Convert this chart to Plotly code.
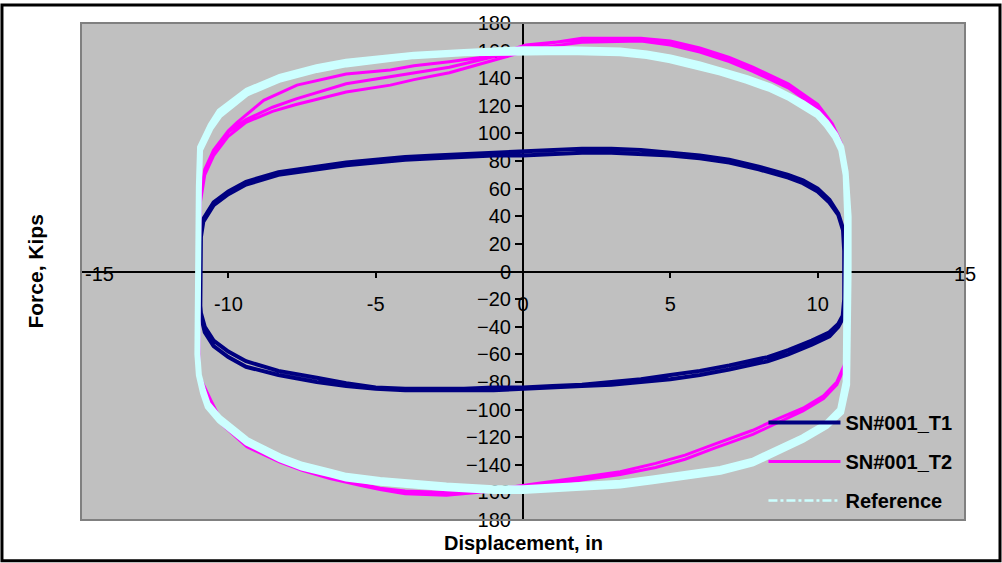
import plotly.graph_objects as go

# ---------------- data ----------------
x_ticks = [-15, -10, -5, 0, 5, 10, 15]
x_tick_text = ["", "-10", "-5", "0", "5", "10", ""]
y_ticks = list(range(-180, 181, 20))

# SN#001_T1 (two cycles)
t1_x = [-10.95, -10.95, -10.93, -10.85, -10.5, -10.0, -9.4, -8.3, -7.0, -6.0, -5.0, -4.0, -3.0, -2.0, -1.0, 0.0,
        1.0, 2.0, 3.0, 4.0, 5.0, 6.0, 7.0, 8.0, 9.0, 9.5, 10.0, 10.4, 10.7, 10.86, 10.9, 10.9, 10.9, 10.85,
        10.7, 10.4, 9.8, 9.0, 8.3, 7.0, 6.0, 5.0, 4.0, 3.0, 2.0, 1.0, 0.0, -1.0, -2.0, -3.0, -4.0, -5.0, -6.0,
        -7.0, -8.3, -9.4, -10.0, -10.5, -10.8, -10.93, -10.95,
        -10.95, -10.93, -10.85, -10.5, -10.0, -9.4, -8.3, -7.0, -6.0, -5.0, -4.0, -3.0, -2.0, -1.0, 0.0,
        1.0, 2.0, 3.0, 4.0, 5.0, 6.0, 7.0, 8.0, 9.0, 9.5, 10.0, 10.4, 10.7, 10.86, 10.9, 10.9, 10.9, 10.85,
        10.7, 10.4, 9.8, 9.0, 8.3, 7.0, 6.0, 5.0, 4.0, 3.0, 2.0, 1.0, 0.0, -1.0, -2.0, -3.0, -4.0, -5.0, -6.0,
        -7.0, -8.3, -9.4, -10.0, -10.5, -10.8, -10.93, -10.95]
t1_f = [-25, 0, 25, 36, 48, 56, 63, 70, 74, 77, 79, 81, 82, 83, 84, 84,
        85, 86, 86, 85, 84, 82, 79, 74, 68, 64, 58, 50, 41, 30, 15, 0, -20, -32,
        -38, -44, -50, -57, -62, -68, -72, -75, -78, -80, -82, -83, -84, -84, -85, -85, -85, -84, -81,
        -77, -72, -65, -58, -50, -40, -30, -25,
        0, 27, 38, 50, 58, 65, 72, 76, 79, 81, 83, 84, 85, 86, 87,
        88, 89, 89, 88, 86, 84, 81, 76, 70, 66, 60, 52, 42, 31, 15, 0, -22, -34,
        -40, -47, -53, -60, -65, -71, -75, -78, -80, -82, -83, -84, -85, -86, -86, -86, -86, -85, -83,
        -80, -75, -69, -62, -54, -44, -32, -25]

# SN#001_T2 (three cycles)
t2_x = [-11.0, -11.0, -10.95, -10.8, -10.5, -10.0, -9.4, -8.5, -7.7, -6.0, -4.5, -3.7, -2.5, -1.5, -0.5, 0.5,
        2.0, 4.0, 5.0, 6.0, 7.0, 7.8, 9.0, 10.0, 10.5, 10.8, 10.95, 11.0, 11.0, 11.0, 10.9, 10.65, 10.2, 9.5,
        8.5, 7.8, 6.5, 5.5, 4.5, 3.3, 2.0, 1.0, 0.0, -1.0, -2.6, -4.0, -4.85, -5.5, -6.55, -7.5, -8.25, -9.37,
        -10.2, -10.6, -10.9, -11.0,
        -11.0, -10.95, -10.8, -10.5, -10.0, -9.4, -8.5, -7.7, -6.0, -4.5, -3.7, -2.5, -1.5, -0.5, 0.5,
        2.0, 4.0, 5.0, 6.0, 7.0, 7.8, 9.0, 10.0, 10.5, 10.8, 10.95, 11.0, 11.0, 11.0, 10.9, 10.65, 10.2, 9.5,
        8.5, 7.8, 6.5, 5.5, 4.5, 3.3, 2.0, 1.0, 0.0, -1.0, -2.6, -4.0, -4.85, -5.5, -6.55, -7.5, -8.25, -9.37,
        -10.2, -10.6, -10.9, -11.0,
        -11.0, -10.95, -10.8, -10.5, -10.0, -9.7, -8.8, -7.67, -6.0, -4.5, -3.7, -2.5, -1.46, -0.5, 0.1,
        2.0, 4.0, 5.0, 6.0, 7.0, 7.8, 9.0, 10.0, 10.5, 10.8, 10.95, 11.0, 11.0]
t2_f = [-75, 0, 50, 70, 84, 98, 108, 116, 121, 130, 135, 139, 144, 150, 156, 162,
        166, 167, 164, 159, 152, 145, 133, 118, 104, 90, 70, 40, 0, -55, -68, -80, -90, -99,
        -108, -115, -125, -133, -139, -145, -149, -152, -155, -158, -160, -159, -157, -154, -149, -143, -137, -126,
        -110, -93, -80, -75,
        0, 52, 72, 86, 101, 110, 119, 125, 136, 141, 144, 148, 153, 158, 164,
        169, 169, 167, 162, 155, 148, 136, 121, 107, 93, 72, 42, 0, -58, -70, -82, -92, -101,
        -111, -118, -128, -136, -142, -147, -151, -154, -157, -159, -162, -161, -158, -155, -150, -144, -138, -127,
        -111, -94, -81, -75,
        0, 54, 74, 88, 102, 108, 124, 135, 143, 146, 149, 152, 155, 160, 164,
        168, 168, 166, 160, 153, 146, 134, 119, 105, 91, 71, 40, 0]

# Reference (two cycles)
ref_x = [-11.05, -11.05, -11.0, -10.96, -10.6, -10.3, -9.37, -8.25, -7.0, -6.0, -4.8, -3.7, -2.0, 0.0,
         1.5, 3.3, 4.2, 5.0, 6.0, 6.7, 7.6, 8.4, 9.0, 9.5, 10.0, 10.3, 10.6, 10.8, 10.95, 11.0, 11.0, 11.0,
         10.95, 10.76, 10.3, 9.5, 8.6, 7.8, 6.7, 5.56, 4.4, 3.3, 2.0, 1.0, 0.0, -1.0, -2.6, -4.85, -6.0,
         -6.55, -7.5, -8.25, -9.37, -10.3, -10.7, -10.86, -11.0, -11.05,
         -11.05, -11.0, -10.96, -10.6, -10.3, -9.37, -8.25, -7.0, -6.0, -4.8, -3.7, -2.0, 0.0,
         1.5, 3.3, 4.2, 5.0, 6.0, 6.7, 7.6, 8.4, 9.0, 9.5, 10.0, 10.3, 10.6, 10.8, 10.95, 11.05, 11.05, 11.05,
         11.0, 10.8, 10.3, 9.5, 8.6, 7.8, 6.7, 5.56, 4.4, 3.3, 2.0, 1.0, 0.0, -1.0, -2.6, -4.85, -6.0,
         -6.55, -7.5, -8.25, -9.37, -10.3, -10.7, -10.86, -11.0, -11.05]
ref_f = [-60, 0, 60, 88, 104, 113, 129, 139, 146, 150, 153, 156, 158, 159,
         159, 158, 156, 153, 148, 144, 138, 132, 126, 120, 113, 106, 97, 88, 70, 40, 0, -60,
         -80, -100, -110, -120, -129, -137, -143, -147, -150, -153, -155, -156, -157, -157, -155, -151, -148,
         -145, -140, -134, -122, -106, -96, -86, -75, -60,
         0, 62, 90, 106, 116, 131, 141, 148, 152, 155, 157, 159, 161,
         161, 160, 158, 155, 150, 146, 140, 134, 128, 122, 115, 108, 99, 90, 72, 40, 0, -62,
         -82, -102, -112, -122, -131, -139, -145, -149, -152, -155, -157, -158, -159, -159, -157, -153, -150,
         -147, -142, -136, -124, -108, -98, -88, -75, -60]

# ---------------- figure ----------------
NAVY = "#000080"
MAGENTA = "#FF00FF"
CYAN = "#CCFFFF"
FONT = "Liberation Sans, Arial, sans-serif"

fig = go.Figure()
fig.add_trace(go.Scatter(x=t1_x, y=t1_f, mode="lines", name="SN#001_T1",
                         line=dict(color=NAVY, width=4), legendgroup="a"))
fig.add_trace(go.Scatter(x=t2_x, y=t2_f, mode="lines", name="SN#001_T2",
                         line=dict(color=MAGENTA, width=3), legendgroup="b"))
fig.add_trace(go.Scatter(x=ref_x, y=ref_f, mode="lines", name="Reference",
                         line=dict(color=CYAN, width=6), showlegend=False, legendgroup="c"))
fig.add_trace(go.Scatter(x=[None], y=[None], mode="lines", name="Reference",
                         line=dict(color=CYAN, width=2.5, dash="dashdot"), legendgroup="c"))

fig.update_layout(
    width=1002, height=563,
    margin=dict(l=81, r=37, t=20, b=43),
    paper_bgcolor="white",
    plot_bgcolor="#C0C0C0",
    font=dict(family=FONT, size=20, color="black"),
    showlegend=True,
    legend=dict(x=0.772, y=0.0, xanchor="left", yanchor="bottom",
                bgcolor="rgba(0,0,0,0)", borderwidth=0, itemwidth=72,
                tracegroupgap=10,
                font=dict(family=FONT, size=20, color="black", weight="bold")),
    xaxis=dict(range=[-15, 15], tickvals=x_ticks, ticktext=x_tick_text,
               anchor="free", position=0.5, showline=True, linecolor="black", linewidth=2,
               ticks="outside", ticklen=5, tickwidth=2, tickcolor="black",
               ticklabelstandoff=9,
               showgrid=False, zeroline=False, layer="below traces",
               tickfont=dict(family=FONT, size=20)),
    yaxis=dict(range=[-180, 180], tickvals=y_ticks,
               anchor="free", position=0.5, showline=True, linecolor="black", linewidth=2,
               ticks="outside", ticklen=7, tickwidth=2, tickcolor="black",
               showgrid=False, zeroline=False, layer="below traces",
               tickfont=dict(family=FONT, size=20)),
    shapes=[
        dict(type="rect", xref="paper", yref="paper", x0=0, x1=1, y0=0, y1=1,
             line=dict(color="#808080", width=2), layer="above"),
        dict(type="rect", xref="paper", yref="paper", x0=-0.0894, x1=1.0396, y0=-0.082, y1=1.036,
             line=dict(color="black", width=3)),
    ],
    annotations=[
        dict(text="-15", x=-15, y=0, xref="x", yref="y", xanchor="left", yanchor="middle",
             xshift=2, yshift=-2, showarrow=False, font=dict(family=FONT, size=20)),
        dict(text="15", x=15, y=0, xref="x", yref="y", xanchor="center", yanchor="middle",
             yshift=-2, showarrow=False, font=dict(family=FONT, size=20)),
        dict(text="<b>Displacement, in</b>", x=0.5, y=-0.047, xref="paper", yref="paper",
             xanchor="center", yanchor="middle", showarrow=False, font=dict(family=FONT, size=20)),
        dict(text="<b>Force, Kips</b>", x=-0.052, y=0.5, xref="paper", yref="paper",
             xanchor="center", yanchor="middle", textangle=-90, showarrow=False,
             font=dict(family=FONT, size=21)),
    ],
)

fig.write_html("out.html", config={"displayModeBar": False},
               post_script="document.body.style.margin='0';document.body.style.overflow='hidden';")
